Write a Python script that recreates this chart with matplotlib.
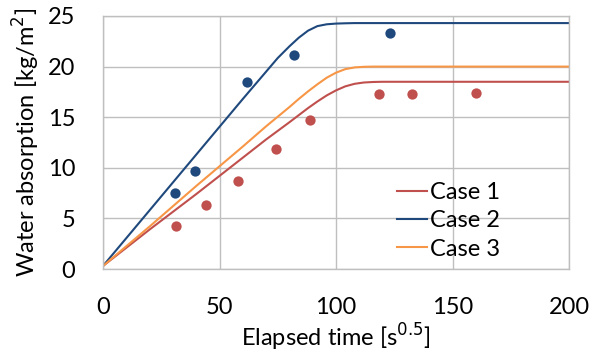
import matplotlib
matplotlib.use("Agg")
import matplotlib.pyplot as plt

# Model curves
line_x = [0, 20, 40, 60, 70, 75, 80, 84, 88, 92, 96, 100, 104, 108, 112, 116, 120, 200]
case1_y = [0.3, 3.9, 7.4, 11.0, 12.8, 13.65, 14.5, 15.2, 15.9, 16.55, 17.15, 17.65, 18.05, 18.3, 18.43, 18.48, 18.5, 18.5]
case2_y = [0.3, 5.8, 11.3, 16.8, 19.5, 20.85, 22.0, 22.85, 23.55, 24.0, 24.18, 24.25, 24.28, 24.3, 24.3, 24.3, 24.3, 24.3]
case3_y = [0.3, 4.2, 8.2, 12.1, 14.1, 15.05, 16.0, 16.8, 17.55, 18.25, 18.9, 19.4, 19.75, 19.92, 19.98, 20.0, 20.0, 20.0]

# Measured points
meas2_x = [30.9, 39.5, 61.7, 82.0, 123.2]
meas2_y = [7.5, 9.7, 18.5, 21.1, 23.3]
meas1_x = [31.3, 44.1, 58.1, 74.2, 88.8, 118.6, 132.8, 160.2]
meas1_y = [4.2, 6.3, 8.7, 11.9, 14.7, 17.3, 17.3, 17.4]

x_ticks = [0, 50, 100, 150, 200]
y_ticks = [0, 5, 10, 15, 20, 25]

RED = "#C0504D"
BLUE = "#1F497D"
ORANGE = "#F79646"
GRID = "#BFBFBF"

plt.rcParams["font.family"] = ["Lato", "DejaVu Sans"]

fig = plt.figure(figsize=(5.93, 3.55), dpi=100)
ax = fig.add_axes([103/593, 1-269/355, (569-103)/593, (269-16)/355])

ax.plot(line_x, case1_y, color=RED, lw=1.5, label="Case 1")
ax.plot(line_x, case2_y, color=BLUE, lw=1.5, label="Case 2")
ax.plot(line_x, case3_y, color=ORANGE, lw=1.5, label="Case 3")
ax.scatter(meas2_x, meas2_y, s=55, color=BLUE, zorder=3, linewidths=0)
ax.scatter(meas1_x, meas1_y, s=55, color=RED, zorder=3, linewidths=0)

ax.set_xlim(0, 200)
ax.set_ylim(0, 25)
ax.set_xticks(x_ticks)
ax.set_yticks(y_ticks)
ax.grid(True, color=GRID, lw=1)
ax.set_axisbelow(True)
for s in ax.spines.values():
    s.set_color(GRID)
    s.set_linewidth(1)
ax.tick_params(length=0, labelsize=17, colors="#000000")
ax.tick_params(axis="x", pad=20)
ax.tick_params(axis="y", pad=20)

ax.set_xlabel("Elapsed time [s$^{0.5}$]", fontsize=17, labelpad=3)
ax.set_ylabel("Water absorption [kg/m$^{2}$]", fontsize=17, labelpad=4)

leg = ax.legend(loc="lower left", bbox_to_anchor=(0.61, 0.0), frameon=False,
                fontsize=17, handlelength=1.3, handletextpad=0.1,
                labelspacing=0.3, borderaxespad=0)

fig.savefig("out.png", dpi=100)
